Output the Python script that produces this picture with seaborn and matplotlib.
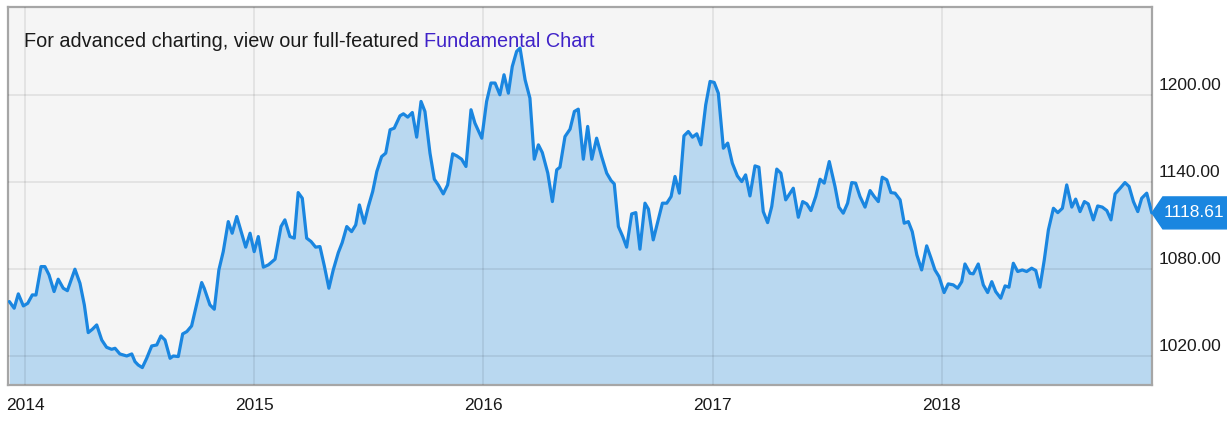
import numpy as np
import pandas as pd
import seaborn as sns
import matplotlib.pyplot as plt
import matplotlib.transforms as mtransforms
from matplotlib.patches import Polygon

# price history (decimal year, price)
years = [
    2013.932, 2013.953, 2013.971, 2013.993, 2014.012, 2014.032, 2014.048, 2014.070, 2014.087, 2014.105,
    2014.127, 2014.145, 2014.167, 2014.185, 2014.218, 2014.240, 2014.259, 2014.276, 2014.294, 2014.313,
    2014.335, 2014.356, 2014.378, 2014.393, 2014.414, 2014.444, 2014.466, 2014.480, 2014.494, 2014.512,
    2014.531, 2014.553, 2014.575, 2014.593, 2014.611, 2014.633, 2014.647, 2014.669, 2014.688, 2014.706,
    2014.727, 2014.771, 2014.782, 2014.807, 2014.826, 2014.846, 2014.865, 2014.887, 2014.904, 2014.924,
    2014.945, 2014.963, 2014.982, 2015.000, 2015.018, 2015.040, 2015.062, 2015.091, 2015.117, 2015.134,
    2015.156, 2015.175, 2015.192, 2015.210, 2015.229, 2015.248, 2015.268, 2015.287, 2015.306, 2015.326,
    2015.345, 2015.367, 2015.384, 2015.404, 2015.425, 2015.443, 2015.459, 2015.480, 2015.498, 2015.517,
    2015.535, 2015.556, 2015.574, 2015.593, 2015.611, 2015.636, 2015.651, 2015.670, 2015.690, 2015.709,
    2015.728, 2015.745, 2015.767, 2015.786, 2015.803, 2015.825, 2015.844, 2015.866, 2015.884, 2015.905,
    2015.924, 2015.946, 2015.963, 2015.993, 2016.014, 2016.033, 2016.051, 2016.072, 2016.090, 2016.109,
    2016.126, 2016.145, 2016.160, 2016.182, 2016.203, 2016.222, 2016.240, 2016.257, 2016.281, 2016.301,
    2016.320, 2016.334, 2016.356, 2016.378, 2016.397, 2016.414, 2016.436, 2016.455, 2016.473, 2016.494,
    2016.516, 2016.538, 2016.557, 2016.571, 2016.589, 2016.608, 2016.625, 2016.647, 2016.665, 2016.683,
    2016.705, 2016.720, 2016.741, 2016.761, 2016.781, 2016.800, 2016.819, 2016.836, 2016.855, 2016.875,
    2016.894, 2016.912, 2016.931, 2016.949, 2016.970, 2016.989, 2017.007, 2017.025, 2017.047, 2017.066,
    2017.086, 2017.108, 2017.127, 2017.144, 2017.163, 2017.185, 2017.202, 2017.221, 2017.240, 2017.258,
    2017.280, 2017.298, 2017.319, 2017.352, 2017.374, 2017.393, 2017.411, 2017.429, 2017.450, 2017.469,
    2017.487, 2017.509, 2017.534, 2017.551, 2017.570, 2017.589, 2017.607, 2017.624, 2017.643, 2017.665,
    2017.687, 2017.705, 2017.723, 2017.740, 2017.760, 2017.778, 2017.796, 2017.818, 2017.836, 2017.854,
    2017.871, 2017.891, 2017.912, 2017.934, 2017.953, 2017.970, 2017.988, 2018.010, 2018.028, 2018.050,
    2018.069, 2018.087, 2018.101, 2018.123, 2018.137, 2018.159, 2018.181, 2018.200, 2018.218, 2018.235,
    2018.257, 2018.276, 2018.293, 2018.312, 2018.331, 2018.351, 2018.370, 2018.392, 2018.410, 2018.428,
    2018.447, 2018.465, 2018.487, 2018.506, 2018.526, 2018.545, 2018.567, 2018.584, 2018.603, 2018.622,
    2018.639, 2018.661, 2018.680, 2018.700, 2018.720, 2018.738, 2018.756, 2018.778, 2018.799, 2018.817,
    2018.836, 2018.855, 2018.872, 2018.894, 2018.916,
]
prices = [
    1057.5, 1052.9, 1062.8, 1054.5, 1056.3, 1062.1, 1062.0, 1081.6, 1081.6, 1075.9,
    1064.4, 1072.9, 1066.7, 1065.0, 1079.8, 1070.1, 1055.2, 1036.1, 1038.4, 1041.4,
    1031.0, 1026.0, 1024.6, 1025.3, 1021.4, 1020.0, 1021.4, 1016.1, 1013.8, 1012.0,
    1018.4, 1026.9, 1027.6, 1033.8, 1031.0, 1018.4, 1020.0, 1019.6, 1035.2, 1036.8,
    1040.7, 1070.6, 1066.7, 1055.2, 1052.2, 1079.3, 1091.9, 1112.6, 1104.6, 1116.1,
    1104.6, 1095.0, 1104.6, 1091.9, 1102.3, 1081.2, 1082.8, 1086.7, 1109.2, 1113.8,
    1102.3, 1101.2, 1132.6, 1128.7, 1101.2, 1098.9, 1095.0, 1095.4, 1082.1, 1066.7,
    1079.3, 1091.2, 1098.1, 1109.2, 1105.7, 1110.3, 1124.1, 1111.5, 1123.0, 1133.3,
    1147.1, 1157.4, 1159.8, 1175.9, 1177.0, 1185.5, 1186.9, 1184.6, 1187.8, 1170.8,
    1195.4, 1188.5, 1159.8, 1141.8, 1137.9, 1131.7, 1137.9, 1159.3, 1157.9, 1155.6,
    1150.6, 1189.7, 1180.5, 1170.1, 1195.4, 1208.1, 1208.1, 1200.0, 1213.8, 1201.1,
    1219.5, 1229.9, 1232.2, 1210.3, 1197.7, 1155.6, 1165.5, 1160.2, 1146.0, 1126.4,
    1148.3, 1150.1, 1171.2, 1176.3, 1188.5, 1190.1, 1155.6, 1178.2, 1155.6, 1170.1,
    1157.4, 1146.0, 1140.9, 1138.6, 1109.2, 1102.3, 1095.0, 1117.9, 1118.8, 1093.6,
    1125.3, 1121.2, 1100.0, 1112.6, 1125.3, 1125.3, 1129.9, 1143.7, 1132.2, 1171.7,
    1174.7, 1170.8, 1173.1, 1165.5, 1193.1, 1209.2, 1208.5, 1201.1, 1163.2, 1166.7,
    1152.9, 1144.1, 1140.2, 1144.8, 1130.3, 1151.0, 1150.1, 1119.5, 1111.9, 1123.0,
    1148.8, 1146.0, 1127.6, 1135.6, 1115.6, 1126.4, 1124.8, 1120.2, 1129.9, 1141.8,
    1139.1, 1154.0, 1136.8, 1122.6, 1118.4, 1125.3, 1139.5, 1139.1, 1129.9, 1122.6,
    1134.0, 1129.9, 1126.4, 1143.2, 1141.4, 1132.6, 1132.2, 1127.6, 1111.5, 1112.6,
    1105.7, 1089.7, 1079.3, 1095.9, 1087.4, 1079.3, 1074.7, 1063.7, 1069.7, 1069.0,
    1066.7, 1071.2, 1083.4, 1077.0, 1076.6, 1083.4, 1069.0, 1063.7, 1071.2, 1064.4,
    1059.8, 1068.3, 1067.4, 1083.9, 1078.2, 1079.3, 1078.2, 1080.5, 1078.9, 1067.4,
    1086.2, 1106.9, 1121.8, 1118.8, 1121.8, 1137.9, 1122.6, 1128.1, 1119.5, 1126.4,
    1124.8, 1113.8, 1123.4, 1122.6, 1120.2, 1113.8, 1131.7, 1135.6, 1139.5, 1136.8,
    1126.4, 1119.5, 1128.7, 1132.2, 1118.61,
]
last_price = 1118.61
year_ticks = [2014, 2015, 2016, 2017, 2018]
price_ticks = [1020, 1080, 1140, 1200]
note_text = "For advanced charting, view our full-featured "
link_text = "Fundamental Chart"

sns.set_style("whitegrid")
plt.rcParams['font.family'] = ['Liberation Sans Narrow', 'Liberation Sans', 'DejaVu Sans']

line_blue = '#1a86e0'
fill_blue = '#b9d8f0'

fig = plt.figure(figsize=(12.27, 4.23), dpi=100)
ax = fig.add_axes([8 / 1227, 38 / 423, 1144 / 1227, 378 / 423])
ax.set_facecolor('#f5f5f5')

df = pd.DataFrame({'year': years, 'price': prices})

ax.set_xlim(2013.926, 2018.917)
ax.set_ylim(1000, 1260.5)

ax.fill_between(df['year'], df['price'], ax.get_ylim()[0], color=fill_blue, lw=0, zorder=1)
sns.lineplot(data=df, x='year', y='price', ax=ax, color=line_blue, lw=2.3, zorder=3)

ax.set_axisbelow(False)
ax.grid(True, color='black', alpha=0.07, lw=1.4)

ax.set_xticks(year_ticks)
ax.set_xticklabels([str(y) for y in year_ticks])
ax.yaxis.tick_right()
ax.set_yticks(price_ticks)
ax.set_yticklabels([f"{p:.2f}" for p in price_ticks])
ax.tick_params(axis='x', length=0, pad=9, labelsize=12.5, colors='#1a1a1a')
ax.tick_params(axis='y', length=0, pad=5, labelsize=12.5, colors='#1a1a1a')
ax.set_xlabel('')
ax.set_ylabel('')

# labels sit just above their grid line
lift = mtransforms.ScaledTranslation(0, 5 / 100, fig.dpi_scale_trans)
for lab in ax.get_yticklabels():
    lab.set_verticalalignment('baseline')
    lab.set_transform(lab.get_transform() + lift)

for s in ax.spines.values():
    s.set_color('#a6a6a6')
    s.set_linewidth(1.6)

# last-price tag on the right axis
tag_tr = mtransforms.blended_transform_factory(ax.transAxes, ax.transData)
tag_h = 11.0
tag = Polygon([(1.0, last_price), (1.0095, last_price + tag_h), (1.07, last_price + tag_h),
               (1.07, last_price - tag_h), (1.0095, last_price - tag_h)],
              closed=True, transform=tag_tr, color=line_blue, clip_on=False, zorder=5)
ax.add_patch(tag)
ax.text(1.0105, last_price, f"{last_price:.2f}", transform=tag_tr, color='white',
        fontsize=12.5, va='center', ha='left', zorder=6, clip_on=False)

t1 = ax.text(0.0137, 0.895, note_text, transform=ax.transAxes, fontsize=14.3,
             color='#1a1a1a', va='baseline', ha='left', zorder=6)
ax.annotate(link_text, xy=(1, 0), xycoords=t1, fontsize=14.3, color='#3f22c8',
            va='bottom', ha='left', zorder=6)

fig.savefig('out.png', dpi=100)
